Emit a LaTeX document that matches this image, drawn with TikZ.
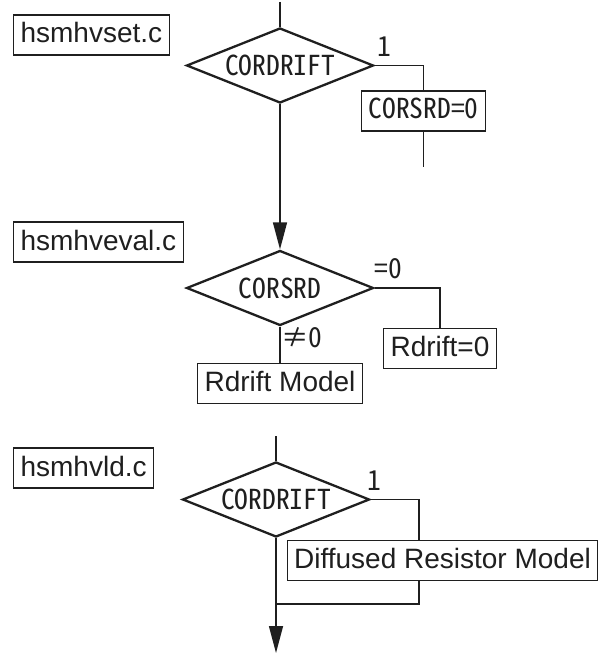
\documentclass[tikz,border=0pt]{standalone}
\usepackage{fontspec}
\setmainfont{Liberation Sans}
\newfontfamily\condfont[RawFeature=+hwid]{Noto Sans CJK JP}
\usetikzlibrary{shapes.geometric,arrows.meta}
\definecolor{ink}{gray}{0.12}
\tikzset{
  filebox/.style={draw=ink, line width=1.2pt, text=ink, font=\fontsize{28}{28}\selectfont,
    inner xsep=7pt, inner ysep=0pt, minimum height=40pt, text height=20pt, text depth=4pt},
  condbox/.style={filebox, font=\condfont\fontsize{27.5}{28}\selectfont},
  decision/.style={diamond, draw=ink, line width=2.3pt, text=ink, aspect=2.5, inner sep=0pt,
    minimum width=187pt, minimum height=75pt, font=\condfont\fontsize{27.5}{28}\selectfont},
  branch/.style={text=ink, inner sep=0pt, font=\condfont\fontsize{27.5}{28}\selectfont},
  flow/.style={draw=ink, line width=1.4pt},
  arrowtip/.style={-{Triangle[length=27pt,width=14pt]}}
}
\begin{document}
\begin{tikzpicture}[x=1pt,y=-1pt]
    \useasboundingbox (0,0) rectangle (598,655);
    % hsmhvset.c
    \node[filebox, anchor=west] (setfile) at (13,35) {hsmhvset.c};
    \coordinate (settop) at (280,2);
    \node[decision] (cordrift1) at (280,65.5) {CORDRIFT};
    \node[condbox] (corsrd0) at (423.5,111) {CORSRD=0};
    \coordinate (setend) at (423.5,167);
    \node[branch] (one1) at (384,47) {1};
    \draw[flow] (settop) -- (cordrift1.north);
    \draw[flow] (cordrift1.east) -| (corsrd0.north);
    \draw[flow] (corsrd0.south) -- (setend);
    % hsmhveval.c
    \node[filebox, anchor=west] (evalfile) at (13,242) {hsmhveval.c};
    \node[decision] (corsrd) at (280,288) {CORSRD};
    \node[filebox] (rdrift0) at (440,348.5) {Rdrift=0};
    \node[filebox] (rdriftmodel) at (280,383.5) {Rdrift Model};
    \node[branch] (eqzero) at (388,269) {=0};
    \node[branch] (nezero) at (302,338) {≠0};
    \draw[flow, arrowtip] (cordrift1.south) -- (corsrd.north);
    \draw[flow] (corsrd.east) -| (rdrift0.north);
    \draw[flow] (corsrd.south) -- (rdriftmodel.north);
    % hsmhvld.c
    \node[filebox, anchor=west] (ldfile) at (13,468) {hsmhvld.c};
    \coordinate (ldtop) at (276,436);
    \node[decision] (cordrift2) at (276,499.5) {CORDRIFT};
    \node[filebox] (diffused) at (442.5,560.5) {Diffused Resistor Model};
    \coordinate (join) at (419,604);
    \coordinate (ldend) at (276,653);
    \node[branch] (one2) at (374,481) {1};
    \draw[flow] (ldtop) -- (cordrift2.north);
    \draw[flow] (cordrift2.east) -| (join |- diffused.north);
    \draw[flow] (diffused.south -| join) -- (join) -- (join -| cordrift2.south);
    \draw[flow, arrowtip] (cordrift2.south) -- (ldend);
\end{tikzpicture}
\end{document}
